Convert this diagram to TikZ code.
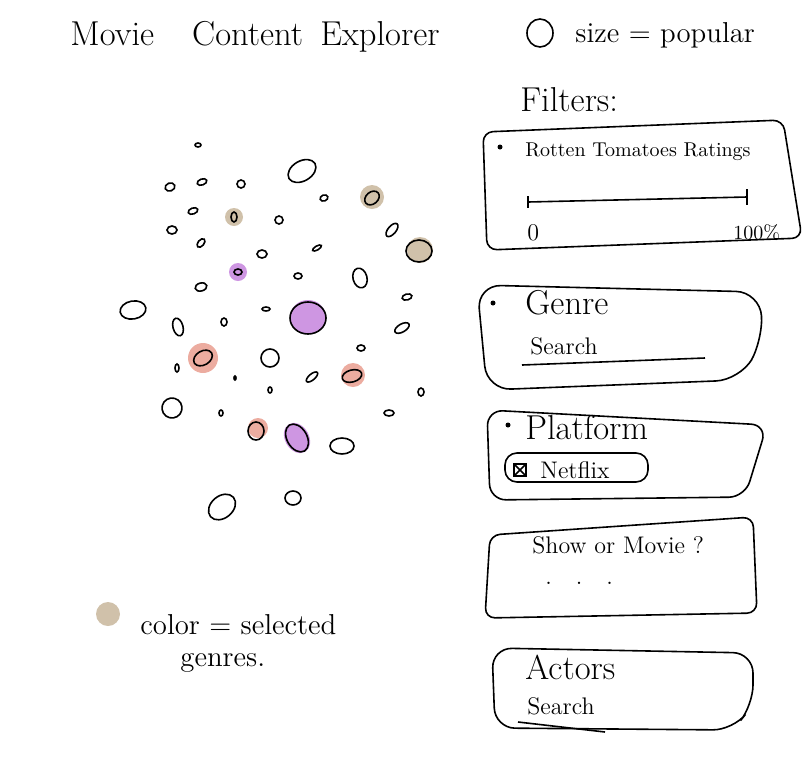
\documentclass[tikz,border=0pt]{standalone}
\usepackage{tikz}
\usetikzlibrary{positioning}

\definecolor{genretan}{RGB}{208,193,170}
\definecolor{genrepurple}{RGB}{206,150,226}
\definecolor{genrepink}{RGB}{236,172,160}

\begin{document}
\begin{tikzpicture}[x=0.5pt,y=-0.5pt]

  \tikzstyle{pop}=[thick];
  \tikzstyle{panel}=[thick,rounded corners=5pt];
  \tikzstyle{lbl}=[anchor=west,inner sep=0pt,font=\large];
  \tikzstyle{big}=[anchor=west,inner sep=0pt,font=\LARGE];
  \tikzstyle{bullet}=[fill,circle,inner sep=0pt,minimum size=2.5pt];

  \useasboundingbox (0,0) rectangle (809,761);

  %% title and size legend
  \node [big] (title) at (70,37) {Movie\hspace{1.1em}Content\hspace{0.5em}Explorer};
  \draw [pop] (540,33) ellipse [x radius=13, y radius=14];
  \node [lbl,font=\Large] (size) at (575,35) {size = popular};

  %% coloured halos
  \fill [genretan] (372,197) circle (12);
  \fill [genretan] (234,217) circle (9);
  \fill [genretan] (420,250) circle (13);
  \fill [genrepurple] (238,272) circle (9);
  \fill [genrepurple] (308,317) ellipse [x radius=18, y radius=17];
  \fill [genrepurple, rotate around={30:(297,438)}] (297,438) ellipse [x radius=12, y radius=16];
  \fill [genrepink] (203,358) circle (15);
  \fill [genrepink] (353,375) circle (12);
  \fill [genrepink] (258,428) circle (10);

  %% movies
  \foreach \x/\y/\a/\b/\r in {198/145/3/2/0, 170/187/5/4/20, 202/182/5/3/20,
      241/184/4/4/0, 302/171/15/10/30, 324/198/4/3/20, 193/211/5/3/20,
      279/220/4/4/0, 172/230/5/4/0, 392/230/8/4/50, 201/243/5/3/50,
      262/254/5/4/0, 317/248/5/2/30, 298/276/4/3/0, 360/278/7/10/15,
      201/287/6/4/15, 407/297/5/3/15, 133/310/13/9/10, 178/327/5/9/15,
      224/322/3/4/0, 266/309/4/2/0, 402/328/8/4/30, 177/368/2/4/0,
      270/358/9/9/0, 361/348/4/3/0, 235/378/1/2/0, 270/390/2/3/0,
      312/377/7/3/40, 421/392/3/4/0, 172/408/10/10/30, 221/413/2/3/0,
      389/413/5/3/0, 342/446/12/8/0, 222/507/15/11/40, 293/498/8/7/0,
      372/198/8/6/40, 234/217/3/5/0, 419/251/13/11/0, 238/272/4/3/0,
      308/318/18/16/0, 297/438/10/15/30, 203/358/10/7/30, 352/376/10/6/15,
      256/431/8/9/0}
    \draw [pop, rotate around={\r:(\x,\y)}] (\x,\y) ellipse [x radius=\a, y radius=\b];

  %% colour legend
  \fill [genretan] (108,614) circle (12);
  \node [big,font=\Large] (col) at (140,625) {color = selected};
  \node [big,font=\Large] (gen) at (180,663) {genres.};

  %% filters
  \node [big] (filt) at (520,100) {Filters:};

  % rotten tomatoes
  \draw [panel] (483,132) -- (783,120) -- (802,238) -- (487,250) -- cycle;
  \node [bullet] (b1) at (500,147) {};
  \node [lbl,font=\normalsize] (rt) at (525,152) {Rotten Tomatoes Ratings};
  \coordinate (s0) at (528,202);
  \coordinate (s1) at (747,197);
  \draw [thick] (s0) -- (s1);
  \draw [thick] (s0) ++(0,-6) -- ++(0,12);
  \draw [thick] (s1) ++(0,-8) -- ++(0,16);
  \node [lbl] (lo) at (527,233) {0};
  \node [lbl,font=\normalsize] (hi) at (733,233) {100\%};

  % genre
  \draw [panel,rounded corners=12pt] (477,285) -- (760,292) -- (763,340) -- (740,380) -- (487,390) -- cycle;
  \node [bullet] (b2) at (493,303) {};
  \node [big] (genre) at (525,303) {Genre};
  \node [lbl] (gsearch) at (530,346) {Search};
  \draw [thick] (522,365) -- (705,358);

  % platform
  \draw [panel,rounded corners=8pt] (487,410) -- (767,425) -- (745,497) -- (490,500) -- cycle;
  \node [bullet] (b3) at (508,425) {};
  \node [big] (plat) at (525,427) {Platform};
  \draw [thick,rounded corners=6pt] (505,453) rectangle (648,482);
  \draw [thick] (514,464) rectangle (526,476);
  \draw [thick] (514,464) -- (526,476) (514,476) -- (526,464);
  \node [lbl] (netflix) at (540,470) {Netflix};

  % show or movie
  \draw [panel] (490,535) -- (753,517) -- (757,613) -- (485,618) -- cycle;
  \node [lbl] (show) at (532,545) {Show or Movie ?};
  \node [lbl] (dots) at (545,583) {.\quad.\quad.};

  % actors
  \draw [panel,rounded corners=10pt] (492,648) -- (753,653) -- (753,705) -- (733,730) -- (495,728) -- cycle;
  \node [big] (act) at (525,667) {Actors};
  \node [lbl] (asearch) at (527,706) {Search};
  \draw [thick] (518,722) -- (605,732);

\end{tikzpicture}
\end{document}
